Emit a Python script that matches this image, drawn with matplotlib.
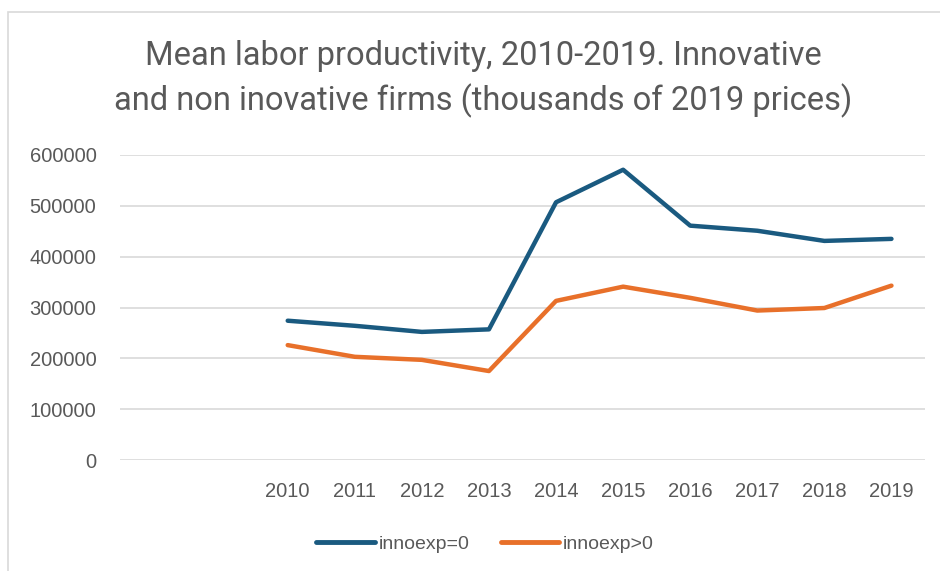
import matplotlib
matplotlib.use("Agg")
import matplotlib.pyplot as plt
from matplotlib.patches import Rectangle
from matplotlib.lines import Line2D

# Categories (two blank leading categories, as in the source chart)
categories = ["", "", "2010", "2011", "2012", "2013", "2014", "2015", "2016", "2017", "2018", "2019"]
years = ["2010", "2011", "2012", "2013", "2014", "2015", "2016", "2017", "2018", "2019"]
innoexp_0 = [274000, 264000, 252000, 257000, 507000, 571000, 461000, 451000, 431000, 435000]
innoexp_pos = [226000, 203000, 197000, 175000, 313000, 341000, 319000, 294000, 299000, 343000]
yticks = [0, 100000, 200000, 300000, 400000, 500000, 600000]

BLUE = "#1a5a80"
ORANGE = "#e8702a"
GREY = "#595959"
GRID = "#d9d9d9"

fig = plt.figure(figsize=(9.4, 5.71), dpi=100)
fig.patch.set_facecolor("white")

# chart border
fig.patches.append(Rectangle((8/940, -0.2), 1.2, 1 - 12/571 + 0.2, transform=fig.transFigure,
                             fill=False, edgecolor=GRID, linewidth=1.2))

ax = fig.add_axes([120/940, 1 - 460/571, 805/940, 305/571])
x_idx = [categories.index(y) for y in years]
ax.plot(x_idx, innoexp_0, color=BLUE, lw=3.2, solid_capstyle="round", solid_joinstyle="round", label="innoexp=0")
ax.plot(x_idx, innoexp_pos, color=ORANGE, lw=3.2, solid_capstyle="round", solid_joinstyle="round", label="innoexp>0")

ax.set_xlim(-0.5, len(categories) - 0.5)
ax.set_ylim(0, 600000)
ax.set_yticks(yticks)
ax.set_yticklabels([str(v) for v in yticks])
ax.set_xticks(range(len(categories)))
ax.set_xticklabels(categories)
ax.grid(axis="y", color=GRID, lw=1.2)
ax.set_axisbelow(True)
for s in ax.spines.values():
    s.set_visible(False)
ax.tick_params(axis="both", length=0, colors=GREY, labelsize=14.5)
ax.tick_params(axis="y", pad=17)
ax.tick_params(axis="x", pad=16)
for lab in ax.get_xticklabels() + ax.get_yticklabels():
    lab.set_fontfamily("Liberation Sans")

fig.text(483/940, 1 - 79/571, "Mean labor productivity, 2010-2019. Innovative\nand non inovative firms (thousands of 2019 prices)",
         ha="center", va="center", fontsize=23.5, color=GREY, family="Roboto",
         linespacing=1.42)

handles = [Line2D([], [], color=BLUE, lw=3.5, solid_capstyle="round"),
           Line2D([], [], color=ORANGE, lw=3.5, solid_capstyle="round")]
fig.legend(handles, ["innoexp=0", "innoexp>0"], loc="center", bbox_to_anchor=(485/940, 1 - 544/571),
           ncol=2, frameon=False, fontsize=14, handlelength=3.0, handletextpad=0.2, columnspacing=1.6,
           labelcolor=GREY, prop={"family": "Liberation Sans", "size": 14})

fig.savefig("out.png", dpi=100, facecolor="white")
